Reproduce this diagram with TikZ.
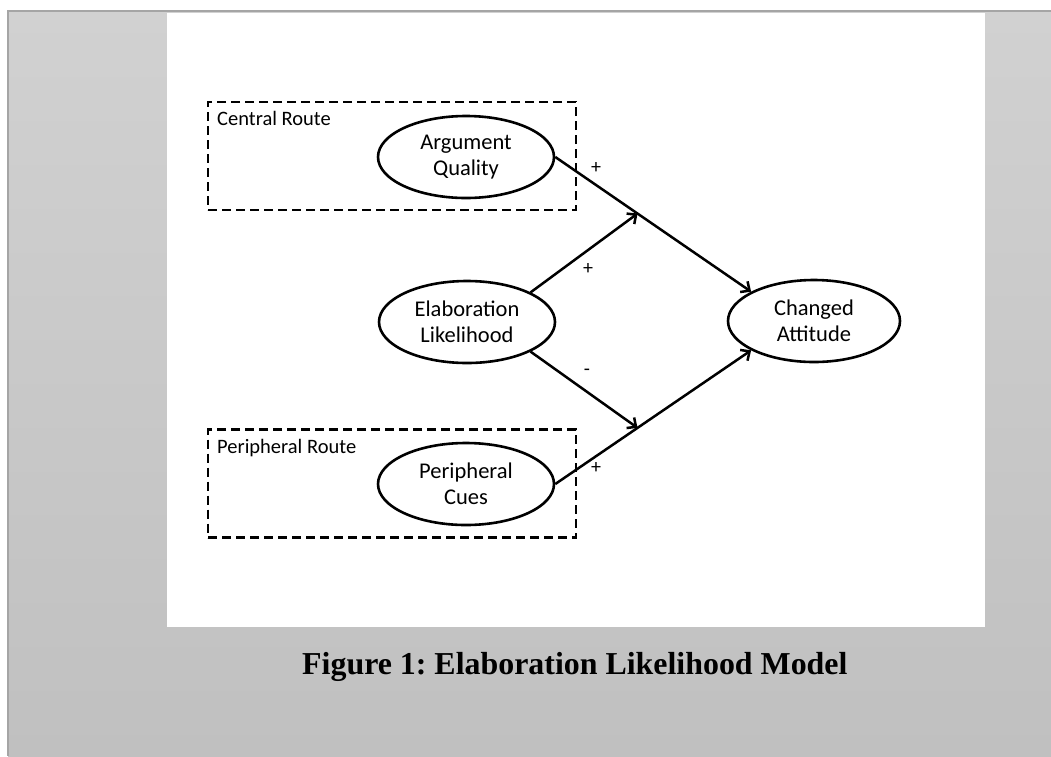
\documentclass[tikz,border=0pt]{standalone}
\usepackage{fontspec}
\setmainfont{Carlito}
\newfontfamily\capfont{Liberation Serif}
\usetikzlibrary{calc,shapes.geometric,arrows.meta}
\definecolor{pagetop}{RGB}{209,209,209}
\definecolor{pagebot}{RGB}{192,192,192}
\definecolor{pageedge}{RGB}{165,165,165}

\begin{document}
\frenchspacing
\begin{tikzpicture}[x=1pt,y=-1pt,>={Straight Barb[length=7pt,width=13pt]},
    latent/.style={ellipse,draw,line width=2.6pt,minimum width=176pt,minimum height=82pt,inner sep=0pt,align=center,font=\fontsize{22.5}{26}\selectfont},
    routebox/.style={draw,line width=2.8pt,dash pattern=on 9pt off 5pt,minimum width=368pt,minimum height=108pt,inner sep=0pt},
    routename/.style={anchor=base west,inner sep=0pt,font=\fontsize{20.5}{24}\selectfont},
    sign/.style={inner sep=0pt,font=\fontsize{20}{24}\selectfont},
    effect/.style={->,line width=2.5pt}]
                \useasboundingbox (0,0) rectangle (1051,756);
                \shade[top color=pagetop,bottom color=pagebot] (8,11) rectangle (1051,756);
                \draw[pageedge,line width=1.2pt] (1051,11) -- (8,11) -- (8,756);
                \fill[white] (167,13) rectangle (985,627);
                % the two routes
                \node[routebox] (central) at (392,156) {};
                \node[routebox] (peripheral) at (392,483.5) {};
                \node[routename] (centralname) at (217,125) {Central Route};
                \node[routename] (periphname) at (217,453) {Peripheral Route};
                % constructs
                \node[latent] (aq) at (466,157) {Argument\\Quality};
                \node[latent] (el) at (467,322) {Elaboration\\Likelihood};
                \node[latent,minimum width=172pt] (ca) at (814,321) {Changed\\Attitude};
                \node[latent] (pc) at (466,484) {Peripheral\\Cues};
                \coordinate (up) at ($(aq.east)!0.42!(ca.155)$);
                \coordinate (down) at ($(pc.east)!0.42!(ca.205)$);
                \draw[effect] (aq.east) -- (ca.155);
                \draw[effect] (pc.east) -- (ca.205);
                \draw[effect] (el.25) -- (up);
                \draw[effect] (el.-25) -- (down);
                \node[sign] (s1) at (596,168) {+};
                \node[sign] (s2) at (588,269) {+};
                \node[sign] (s3) at (587,372) {-};
                \node[sign] (s4) at (596,468) {+};
                \node[anchor=base west,inner sep=0pt,font=\capfont\bfseries\fontsize{31.9}{36}\selectfont] (cap) at (302,674) {Figure 1: Elaboration Likelihood Model};
\end{tikzpicture}
\end{document}
